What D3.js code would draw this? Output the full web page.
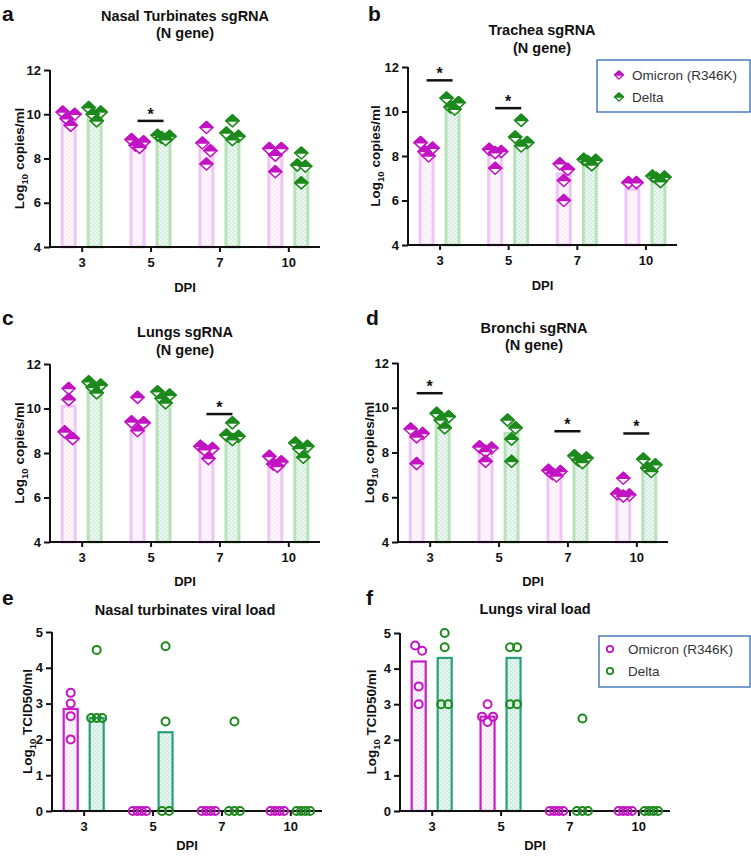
<!DOCTYPE html>
<html><head><meta charset="utf-8">
<script src="https://cdn.jsdelivr.net/npm/d3@7"></script>
<style>body{margin:0;background:#fff}svg{display:block;font-family:"Liberation Sans",Arial,sans-serif}</style>
</head><body><svg id="c" width="751" height="856"></svg>
<script>
// ---------- DATA ----------
const days = ["3", "5", "7", "10"];
const seriesNames = ["Omicron (R346K)", "Delta"];
const yTicksRNA = [4, 6, 8, 10, 12];
const yTicksTCID = [0, 1, 2, 3, 4, 5];

// a: Nasal Turbinates sgRNA
const aOmiPts = [[10.1, 10.0, 9.8, 9.5], [8.85, 8.75, 8.6, 8.5], [9.4, 8.7, 8.35, 7.75], [8.45, 8.45, 8.15, 7.4]];
const aOmiBars = [9.85, 8.65, 8.55, 8.15];
const aDelPts = [[10.3, 10.1, 10.0, 9.7], [9.05, 9.0, 8.95, 8.85], [9.7, 9.15, 9.0, 8.85], [8.25, 7.7, 7.65, 6.9]];
const aDelBars = [10.05, 8.95, 9.1, 7.65];
const aStarDays = ["5"];
const aStarY = [9.7];

// b: Trachea sgRNA
const bOmiPts = [[8.6, 8.35, 8.2, 8.0], [8.3, 8.2, 8.15, 7.45], [7.65, 7.4, 6.9, 6.0], [6.8, 6.8]];
const bOmiBars = [8.3, 8.0, 7.2, 6.5];
const bDelPts = [[10.6, 10.4, 10.2, 10.1], [9.6, 8.85, 8.6, 8.45], [7.85, 7.8, 7.75, 7.6], [7.1, 7.05, 7.0, 6.85]];
const bDelBars = [10.25, 8.65, 7.7, 7.0];
const bStarDays = ["3", "5"];
const bStarY = [11.4, 10.15];

// c: Lungs sgRNA
const cOmiPts = [[10.9, 10.4, 8.95, 8.65], [10.5, 9.4, 9.35, 9.0], [8.3, 8.2, 8.15, 7.75], [7.85, 7.6, 7.5, 7.4]];
const cOmiBars = [10.1, 9.4, 8.1, 7.5];
const cDelPts = [[11.2, 11.05, 10.95, 10.7], [10.75, 10.6, 10.45, 10.25], [9.35, 8.8, 8.75, 8.6], [8.45, 8.3, 8.2, 7.8]];
const cDelBars = [11.0, 10.3, 8.75, 8.2];
const cStarDays = ["7"];
const cStarY = [9.75];

// d: Bronchi sgRNA
const dOmiPts = [[9.05, 8.85, 8.7, 7.5], [8.25, 8.2, 8.05, 7.6], [7.2, 7.15, 7.05, 6.95], [6.85, 6.15, 6.1, 6.05]];
const dOmiBars = [8.75, 8.0, 7.05, 6.2];
const dDelPts = [[9.75, 9.6, 9.45, 9.1], [9.45, 9.1, 8.6, 7.6], [7.85, 7.75, 7.65, 7.55], [7.7, 7.45, 7.3, 7.15]];
const dDelBars = [9.5, 8.85, 7.7, 7.35];
const dStarDays = ["3", "7", "10"];
const dStarY = [10.65, 8.95, 8.85];

// e: Nasal turbinates viral load
const eOmiPts = [[3.3, 3.0, 2.65, 2.0], [0, 0, 0, 0], [0, 0, 0, 0], [0, 0, 0, 0]];
const eOmiBars = [2.85, 0, 0, 0];
const eDelPts = [[4.5, 2.6, 2.6, 2.6], [4.6, 2.5, 0, 0], [2.5, 0, 0, 0], [0, 0, 0, 0]];
const eDelBars = [2.6, 2.2, 0, 0];

// f: Lungs viral load
const fOmiPts = [[4.65, 4.5, 3.5, 3.0], [3.0, 2.65, 2.65, 2.5], [0, 0, 0, 0], [0, 0, 0, 0]];
const fOmiBars = [4.2, 2.65, 0, 0];
const fDelPts = [[5.0, 4.6, 3.0, 3.0], [4.6, 4.6, 3.0, 3.0], [2.6, 0, 0, 0], [0, 0, 0, 0]];
const fDelBars = [4.3, 4.3, 0, 0];

// ---------- STYLE / LAYOUT ----------
const C = {
  omi: "#c214c2", del: "#1c8a1c",
  rnaOmiStroke: "#efc5f5", rnaDelStroke: "#b6e2b6",
  vlOmiStroke: "#c81ec8", vlDelStroke: "#2a9f7c",
  legendBorder: "#4a7ebb"
};

const panels = [
  {letter: "a", lx: 2, ly: 21, title: ["Nasal Turbinates sgRNA", "(N gene)"], tx: 185, ty: [21, 38],
   x0: 50, x1: 320, yTop: 70, yBot: 247, dom: [4, 12], ticks: yTicksRNA, kind: "rna",
   omiPts: aOmiPts, omiBars: aOmiBars, delPts: aDelPts, delBars: aDelBars, starDays: aStarDays, starY: aStarY,
   ylab: "copies/ml", ylx: 24, dpiY: 292},
  {letter: "b", lx: 368, ly: 21, title: ["Trachea sgRNA", "(N gene)"], tx: 542, ty: [35, 53],
   x0: 408, x1: 677, yTop: 67, yBot: 245, dom: [4, 12], ticks: yTicksRNA, kind: "rna",
   omiPts: bOmiPts, omiBars: bOmiBars, delPts: bDelPts, delBars: bDelBars, starDays: bStarDays, starY: bStarY,
   ylab: "copies/ml", ylx: 380, dpiY: 290, legend: {x: 597, y: 60, w: 153, h: 52, mx: 619, tx: 632, r0: 75, dr: 22}},
  {letter: "c", lx: 2, ly: 325, title: ["Lungs sgRNA", "(N gene)"], tx: 185, ty: [337, 355],
   x0: 50, x1: 320, yTop: 364, yBot: 542, dom: [4, 12], ticks: yTicksRNA, kind: "rna",
   omiPts: cOmiPts, omiBars: cOmiBars, delPts: cDelPts, delBars: cDelBars, starDays: cStarDays, starY: cStarY,
   ylab: "copies/ml", ylx: 24, dpiY: 586},
  {letter: "d", lx: 366, ly: 325, title: ["Bronchi sgRNA", "(N gene)"], tx: 534, ty: [333, 350],
   x0: 398, x1: 668, yTop: 363, yBot: 542, dom: [4, 12], ticks: yTicksRNA, kind: "rna",
   omiPts: dOmiPts, omiBars: dOmiBars, delPts: dDelPts, delBars: dDelBars, starDays: dStarDays, starY: dStarY,
   ylab: "copies/ml", ylx: 374, dpiY: 586},
  {letter: "e", lx: 2, ly: 605, title: ["Nasal turbinates viral load"], tx: 185, ty: [615],
   x0: 52, x1: 322, yTop: 632, yBot: 811, dom: [0, 5], ticks: yTicksTCID, kind: "vl",
   omiPts: eOmiPts, omiBars: eOmiBars, delPts: eDelPts, delBars: eDelBars, starDays: [], starY: [],
   ylab: "TCID50/ml", ylx: 32, dpiY: 850},
  {letter: "f", lx: 366, ly: 605, title: ["Lungs viral load"], tx: 535, ty: [614],
   x0: 400, x1: 670, yTop: 633, yBot: 811, dom: [0, 5], ticks: yTicksTCID, kind: "vl",
   omiPts: fOmiPts, omiBars: fOmiBars, delPts: fDelPts, delBars: fDelBars, starDays: [], starY: [],
   ylab: "TCID50/ml", ylx: 376, dpiY: 850, legend: {x: 599, y: 636, w: 151, h: 51, mx: 610, tx: 628, r0: 649, dr: 22}}
];

// ---------- DRAW ----------
const svg = d3.select("#c");
svg.append("rect").attr("width", 751).attr("height", 856).attr("fill", "#fff");
const defs = svg.append("defs");
function dotPattern(id, bg, dot) {
  const p = defs.append("pattern").attr("id", id).attr("width", 4).attr("height", 4)
    .attr("patternUnits", "userSpaceOnUse");
  p.append("rect").attr("width", 4).attr("height", 4).attr("fill", bg);
  p.append("circle").attr("cx", 1).attr("cy", 1).attr("r", 0.6).attr("fill", dot);
  p.append("circle").attr("cx", 3).attr("cy", 3).attr("r", 0.6).attr("fill", dot);
}
dotPattern("pRnaOmi", "#fdf7fd", "#e6d2ea");
dotPattern("pRnaDel", "#eef8f1", "#86c9bb");
dotPattern("pVlOmi", "#faf5fa", "#d6c8d6");
dotPattern("pVlDel", "#e8f6f0", "#7fc6b0");

function diamond(g, cx, cy, color, w = 6.5, h = 6, sw = 1.6) {
  g.append("path").attr("d", `M${cx - w},${cy}L${cx},${cy - h}L${cx + w},${cy}L${cx},${cy + h}Z`)
    .attr("fill", "#fff").attr("stroke", color).attr("stroke-width", sw).attr("stroke-linejoin", "round");
  g.append("path").attr("d", `M${cx - w},${cy}L${cx},${cy - h}L${cx + w},${cy}Z`)
    .attr("fill", color).attr("stroke", color).attr("stroke-width", sw).attr("stroke-linejoin", "round");
}
function ring(g, cx, cy, color, r = 4, sw = 2) {
  g.append("circle").attr("cx", cx).attr("cy", cy).attr("r", r)
    .attr("fill", "none").attr("stroke", color).attr("stroke-width", sw);
}

function layout(vals, y, thr, spacing) {
  const items = vals.map(v => ({v, py: y(v)})).sort((a, b) => a.py - b.py);
  const clusters = [];
  items.forEach(it => {
    const c = clusters[clusters.length - 1];
    if (c && it.py - c[c.length - 1].py < thr) c.push(it); else clusters.push([it]);
  });
  clusters.forEach(c => {
    const n = c.length, s = spacing(n);
    const slots = d3.range(n).map(k => (k - (n - 1) / 2) * s);
    const order = [];
    let lo = 0, hi = n - 1;
    while (lo <= hi) { order.push(lo++); if (lo <= hi) order.push(hi--); }
    c.forEach((it, k) => it.dx = slots[order[k]]);
  });
  return items;
}

panels.forEach(P => {
  const g = svg.append("g");
  const x = d3.scalePoint().domain(days).range([P.x0, P.x1]).padding(0.46);
  const y = d3.scaleLinear().domain(P.dom).range([P.yBot, P.yTop]);
  const rna = P.kind === "rna";
  const off = 13;

  // letter & title
  g.append("text").attr("x", P.lx).attr("y", P.ly).text(P.letter)
    .attr("font-size", 21).attr("font-weight", "bold").attr("fill", "#111");
  P.title.forEach((t, i) => g.append("text").attr("x", P.tx).attr("y", P.ty[i]).text(t)
    .attr("text-anchor", "middle").attr("font-size", 14.5).attr("font-weight", "bold").attr("fill", "#111"));

  // bars
  const series = [
    {pts: P.omiPts, bars: P.omiBars, dx: -off, color: C.omi,
     stroke: rna ? C.rnaOmiStroke : C.vlOmiStroke, fill: rna ? "url(#pRnaOmi)" : "url(#pVlOmi)"},
    {pts: P.delPts, bars: P.delBars, dx: off, color: C.del,
     stroke: rna ? C.rnaDelStroke : C.vlDelStroke, fill: rna ? "url(#pRnaDel)" : "url(#pVlDel)"}
  ];
  series.forEach(S => {
    days.forEach((d, i) => {
      const v = S.bars[i];
      if (v <= P.dom[0]) return;
      const sw = rna ? 3 : 2.2;
      const bw = rna ? 13 : 14;
      const cx = x(d) + S.dx;
      g.append("rect").attr("x", cx - bw / 2).attr("y", y(v)).attr("width", bw)
        .attr("height", y(P.dom[0]) - y(v)).attr("fill", S.fill)
        .attr("stroke", S.stroke).attr("stroke-width", sw);
    });
  });

  // axes
  const ya = d3.axisLeft(y).tickValues(P.ticks).tickSize(6).tickPadding(3).tickFormat(d3.format("d"));
  const yg = g.append("g").attr("transform", `translate(${P.x0},0)`).call(ya);
  const xa = d3.axisBottom(x).tickSize(5).tickPadding(6);
  const xg = g.append("g").attr("transform", `translate(0,${P.yBot})`).call(xa);
  [yg, xg].forEach(a => {
    a.select(".domain").remove();
    a.selectAll("line").attr("stroke", "#111").attr("stroke-width", 2);
    a.selectAll("text").attr("font-size", 13).attr("font-weight", "bold").attr("fill", "#111")
      .attr("font-family", "Liberation Sans, Arial, sans-serif");
  });
  g.append("line").attr("x1", P.x0).attr("x2", P.x0).attr("y1", P.yTop).attr("y2", P.yBot + 1)
    .attr("stroke", "#111").attr("stroke-width", 2);
  g.append("line").attr("x1", P.x0 - 1).attr("x2", P.x1).attr("y1", P.yBot).attr("y2", P.yBot)
    .attr("stroke", "#111").attr("stroke-width", 2);

  // axis titles
  g.append("text").attr("x", (P.x0 + P.x1) / 2).attr("y", P.dpiY).text("DPI")
    .attr("text-anchor", "middle").attr("font-size", 13).attr("font-weight", "bold").attr("fill", "#111");
  const yl = g.append("text").attr("transform", `translate(${P.ylx},${(P.yTop + P.yBot) / 2}) rotate(-90)`)
    .attr("text-anchor", "middle").attr("font-size", 13.5).attr("font-weight", "bold").attr("fill", "#111");
  yl.append("tspan").text("Log");
  yl.append("tspan").text("10").attr("font-size", 9.5).attr("dy", 4);
  yl.append("tspan").text(" " + P.ylab).attr("dy", -4);

  // points
  series.forEach(S => {
    days.forEach((d, i) => {
      const items = rna ? layout(S.pts[i], y, 9, n => n === 1 ? 0 : n === 2 ? 8 : n === 3 ? 6 : 4)
                        : layout(S.pts[i], y, 8, n => n === 1 ? 0 : n === 2 ? 7 : n === 3 ? 5.5 : 4.5);
      items.forEach(it => {
        const cx = x(d) + S.dx + it.dx;
        if (rna) diamond(g, cx, it.py, S.color); else ring(g, cx, it.py, S.color);
      });
    });
  });

  // significance
  P.starDays.forEach((d, i) => {
    const yy = y(P.starY[i]);
    g.append("line").attr("x1", x(d) - off).attr("x2", x(d) + off).attr("y1", yy).attr("y2", yy)
      .attr("stroke", "#111").attr("stroke-width", 2.5);
    g.append("text").attr("x", x(d)).attr("y", yy - 1).text("*").attr("text-anchor", "middle")
      .attr("font-size", 16).attr("font-weight", "bold").attr("fill", "#111");
  });

  // legend
  if (P.legend) {
    const L = P.legend;
    const lg = g.append("g");
    lg.append("rect").attr("x", L.x).attr("y", L.y).attr("width", L.w).attr("height", L.h)
      .attr("fill", "#fff").attr("stroke", C.legendBorder).attr("stroke-width", 1.5);
    [C.omi, C.del].forEach((col, k) => {
      const cy = L.r0 + k * L.dr;
      if (rna) diamond(lg, L.mx, cy, col, 4.5, 4, 1.3); else ring(lg, L.mx, cy, col, 3.2, 1.8);
      lg.append("text").attr("x", L.tx).attr("y", cy + 5).text(seriesNames[k])
        .attr("font-size", 13.5).attr("fill", "#333");
    });
  }
});
</script></body></html>
